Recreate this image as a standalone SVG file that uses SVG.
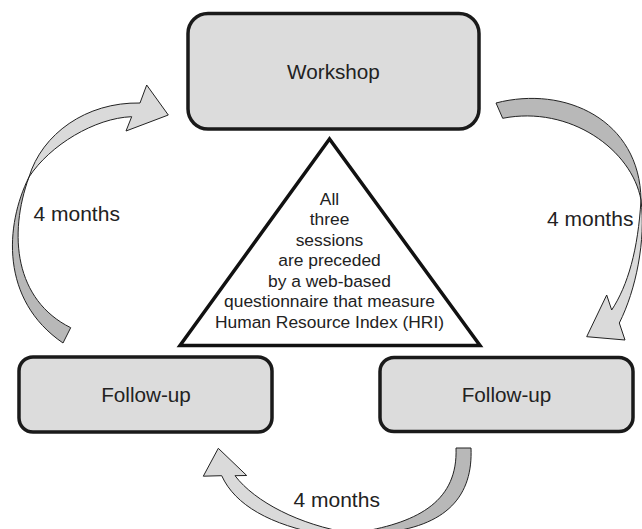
<svg xmlns="http://www.w3.org/2000/svg" width="642" height="529" viewBox="0 0 642 529">
<style>
  .box { fill: #dcdcdc; stroke: #1a1a1a; stroke-width: 3.5; }
  .tri { fill: #ffffff; stroke: #111111; stroke-width: 3.5; stroke-linejoin: miter; }
  .lbl { font-family: "Liberation Sans", Arial, sans-serif; font-size: 20.7px; fill: #222222; }
  .note { font-family: "Liberation Sans", Arial, sans-serif; font-size: 17.4px; fill: #222222; text-anchor: middle; }
  .mo { font-family: "Liberation Sans", Arial, sans-serif; font-size: 21px; fill: #222222; }
  .front { fill: #dadada; stroke: #222222; stroke-width: 1; stroke-linejoin: round; }
  .back { fill: #b8b8b8; stroke: #222222; stroke-width: 1; stroke-linejoin: round; }
</style>
<rect width="642" height="529" fill="#ffffff"/>

<g id="connectors">
  <!-- left arrow: Follow-up (left) to Workshop -->
  <g id="arrow-left">
    <path class="back" d="M29,177 C5,225 0,300 63,343 L70.7,327.7 C15,300 8,235 29,177 Z"/>
    <path class="front" d="M29,177 C42,134 86,102 140,103 L146.7,85 L168.3,115 L126,131 L131.7,116.7 C95,118 50,145 29,177 Z"/>
  </g>
  <!-- right arrow: Workshop to Follow-up (right) -->
  <g id="arrow-right">
    <path class="back" d="M496,103 C565,85 640,120 641,200 C632,150 570,105 502.7,118.3 Z"/>
    <path class="front" d="M641,200 C646,240 636,290 619.3,323 L625,340 L586.7,336.7 L606.7,295 L611.7,310 C628,285 638,250 641,200 Z"/>
  </g>
  <!-- bottom arrow: Follow-up (right) to Follow-up (left) -->
  <g id="arrow-bottom">
    <path class="back" d="M456,448 L471,448 C473,495 448,527 380,533 L360,532 C420,522 458,500 456,448 Z"/>
    <path class="front" d="M218.3,448.3 L246.7,475.5 L235,475.7 C255,502 300,525 350,533 L325,535 C270,525 235,505 221.7,475.7 L203.3,476.2 Z"/>
  </g>
  <text class="mo" x="33.5" y="221">4 months</text>
  <text class="mo" x="547" y="226">4 months</text>
  <text class="mo" x="293.5" y="507">4 months</text>
</g>

<g id="node-workshop">
  <rect class="box" x="188" y="13.5" width="291" height="115.5" rx="20" ry="20"/>
  <text class="lbl" x="333.5" y="78.5" text-anchor="middle">Workshop</text>
</g>

<g id="node-followup-left">
  <rect class="box" x="19" y="357" width="253" height="75" rx="14" ry="14"/>
  <text class="lbl" x="146" y="402" text-anchor="middle">Follow-up</text>
</g>

<g id="node-followup-right">
  <rect class="box" x="380" y="357.5" width="253" height="74" rx="14" ry="14"/>
  <text class="lbl" x="506.5" y="402" text-anchor="middle">Follow-up</text>
</g>

<g id="node-note">
  <polygon class="tri" points="329.5,139 180,345.5 480,345.5"/>
  <text class="note" x="329.5" y="204.5">All</text>
  <text class="note" x="329.5" y="225">three</text>
  <text class="note" x="329.5" y="245.5">sessions</text>
  <text class="note" x="329.5" y="266">are preceded</text>
  <text class="note" x="329.5" y="286.5">by a web-based</text>
  <text class="note" x="329.5" y="307">questionnaire that measure</text>
  <text class="note" x="329.5" y="327.5">Human Resource Index (HRI)</text>
</g>
</svg>
